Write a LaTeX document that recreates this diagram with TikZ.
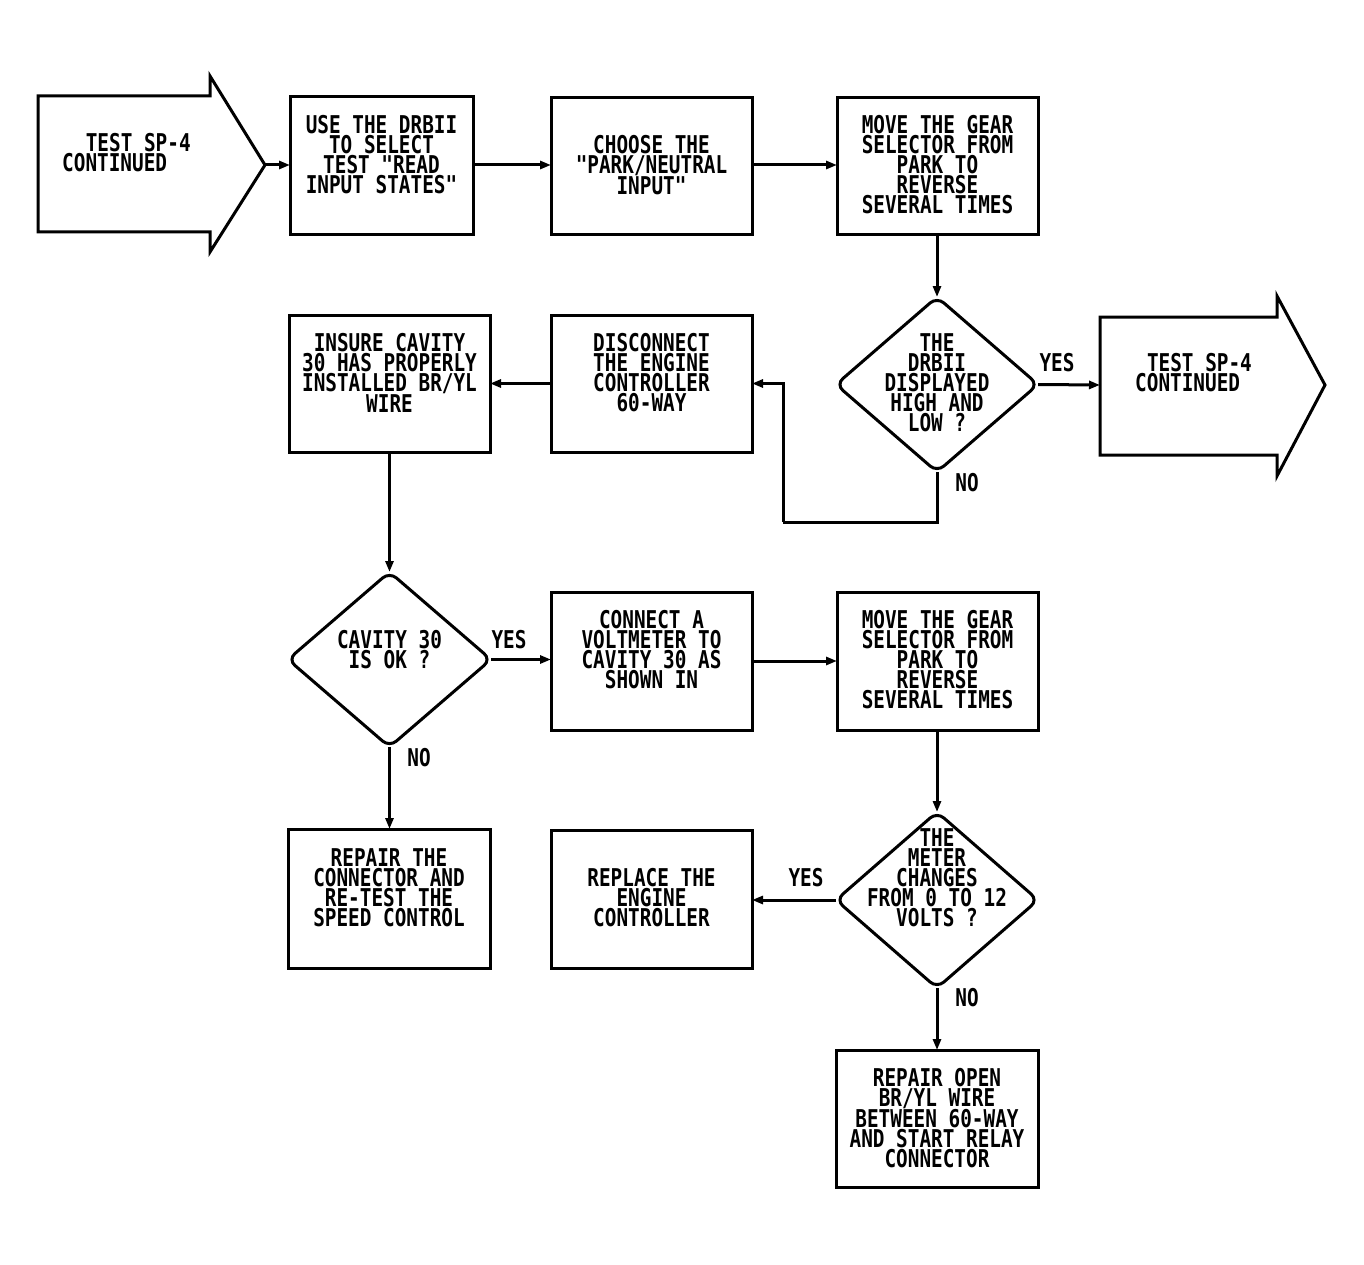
\documentclass[tikz,border=0pt]{standalone}
\usepackage{fontspec}
\usetikzlibrary{arrows.meta,shapes.geometric,calc}
\newfontfamily\plotfont[FakeStretch=0.79]{DejaVu Sans Mono}
\begin{document}
\begin{tikzpicture}[x=1pt,y=-1pt,
  every node/.style={font=\plotfont\bfseries\fontsize{24.5pt}{20pt}\selectfont},
  boxs/.style={draw,line width=3pt,rectangle,inner sep=0pt,outer sep=0pt},
  dia/.style={draw,line width=3pt,diamond,rounded corners=9pt,inner sep=0pt,outer sep=0pt,minimum width=202pt,minimum height=175pt},
  txt/.style={align=center,inner sep=0pt},
  lbl/.style={inner sep=0pt},
  bigarrow/.style={draw,line width=3pt,line join=miter},
  conn/.style={line width=3pt,-{Triangle[length=11pt,width=8pt]}},
  wire/.style={line width=3pt}]
\useasboundingbox (0,0) rectangle (1364,1265);

% start arrow
\draw[bigarrow] (38,96) -- (210,96) -- (210,76) -- (265,165) -- (210,252) -- (210,232) -- (38,232) -- cycle;
\coordinate (a1tip) at (265,165);
\node[txt,align=left,anchor=west] (t0) at (62,153) {\hspace{23.6pt}TEST SP-4\\CONTINUED};

% top row
\node[boxs,minimum width=183pt,minimum height=138pt] (b1) at (381.5,166) {};
\node[txt] (t1) at (381.5,155) {USE THE DRBII\\TO SELECT\\TEST "READ\\INPUT STATES"};
\node[boxs,minimum width=201pt,minimum height=137pt] (b2) at (651.5,166.5) {};
\node[txt] (t2) at (651.5,165) {CHOOSE THE\\"PARK/NEUTRAL\\INPUT"};
\node[boxs,minimum width=201pt,minimum height=137pt] (b3) at (937.5,166.5) {};
\node[txt] (t3) at (937.5,165) {MOVE THE GEAR\\SELECTOR FROM\\PARK TO\\REVERSE\\SEVERAL TIMES};

% second row
\node[dia] (d1) at (937,384.5) {};
\node[txt] (t4) at (937,383) {THE\\DRBII\\DISPLAYED\\HIGH AND\\LOW ?};
\draw[bigarrow] (1100,317) -- (1277,317) -- (1277,296) -- (1325,385) -- (1277,476) -- (1277,455) -- (1100,455) -- cycle;
\node[inner sep=0pt,outer sep=0pt,minimum width=177pt,minimum height=138pt] (sp4b) at (1188.5,385) {};
\node[txt,align=left,anchor=west] (t5) at (1135,373) {\hspace{11.8pt}TEST SP-4\\CONTINUED};
\node[boxs,minimum width=201pt,minimum height=137pt] (b4) at (651.5,383.5) {};
\node[txt] (t6) at (651.5,373) {DISCONNECT\\THE ENGINE\\CONTROLLER\\60-WAY};
\node[boxs,minimum width=201pt,minimum height=137pt] (b5) at (389.5,383.5) {};
\node[txt] (t7) at (389.5,373) {INSURE CAVITY\\30 HAS PROPERLY\\INSTALLED BR/YL\\WIRE};

% third row
\node[dia,minimum width=203pt] (d2) at (389.5,659.5) {};
\node[txt] (t8) at (389.5,650) {CAVITY 30\\IS OK ?};
\node[boxs,minimum width=201pt,minimum height=138pt] (b6) at (651.5,661) {};
\node[txt] (t9) at (651.5,650) {CONNECT A\\VOLTMETER TO\\CAVITY 30 AS\\SHOWN IN};
\node[boxs,minimum width=201pt,minimum height=138pt] (b7) at (937.5,661) {};
\node[txt] (t10) at (937.5,660) {MOVE THE GEAR\\SELECTOR FROM\\PARK TO\\REVERSE\\SEVERAL TIMES};

% fourth row
\node[boxs,minimum width=202pt,minimum height=139pt] (b10) at (389,898.5) {};
\node[txt] (t11) at (389,888) {REPAIR THE\\CONNECTOR AND\\RE-TEST THE\\SPEED CONTROL};
\node[boxs,minimum width=201pt,minimum height=138pt] (b8) at (651.5,899) {};
\node[txt] (t12) at (651.5,898) {REPLACE THE\\ENGINE\\CONTROLLER};
\node[dia,minimum height=176pt] (d3) at (937,900) {};
\node[txt] (t13) at (937,878) {THE\\METER\\CHANGES\\FROM 0 TO 12\\VOLTS ?};
\node[boxs,minimum width=202pt,minimum height=137pt] (b9) at (937,1118.5) {};
\node[txt] (t14) at (937,1118) {REPAIR OPEN\\BR/YL WIRE\\BETWEEN 60-WAY\\AND START RELAY\\CONNECTOR};

% labels
\node[lbl] (y1) at (1057,363) {YES};
\node[lbl] (n1) at (967,483) {NO};
\node[lbl] (y2) at (509,640) {YES};
\node[lbl] (n2) at (419,758) {NO};
\node[lbl] (y3) at (806,878) {YES};
\node[lbl] (n3) at (967,998) {NO};

% connectors
\draw[conn] (a1tip) -- (a1tip -| b1.west);
\draw[conn] (b1.east |- 0,165) -- (b2.west |- 0,165);
\draw[conn] (b2.east |- 0,165) -- (b3.west |- 0,165);
\draw[conn] (b3.south -| d1.north) -- (d1.north);
\draw[conn] (d1.east) -- (sp4b.west);
\coordinate (loop) at (783,522);
\draw[wire] (d1.south) |- (loop);
\draw[conn] (loop) |- (b4.east);
\draw[conn] (b4.west) -- (b5.east);
\draw[conn] (b5.south -| d2.north) -- (d2.north);
\draw[conn] (d2.east) -- (b6.west |- d2.east);
\draw[conn] (b6.east) -- (b7.west);
\draw[conn] (b7.south -| d3.north) -- (d3.north);
\draw[conn] (d3.west) -- (b8.east |- d3.west);
\draw[conn] (d3.south) -- (b9.north);
\draw[conn] (d2.south) -- (b10.north -| d2.south);
\end{tikzpicture}
\end{document}
